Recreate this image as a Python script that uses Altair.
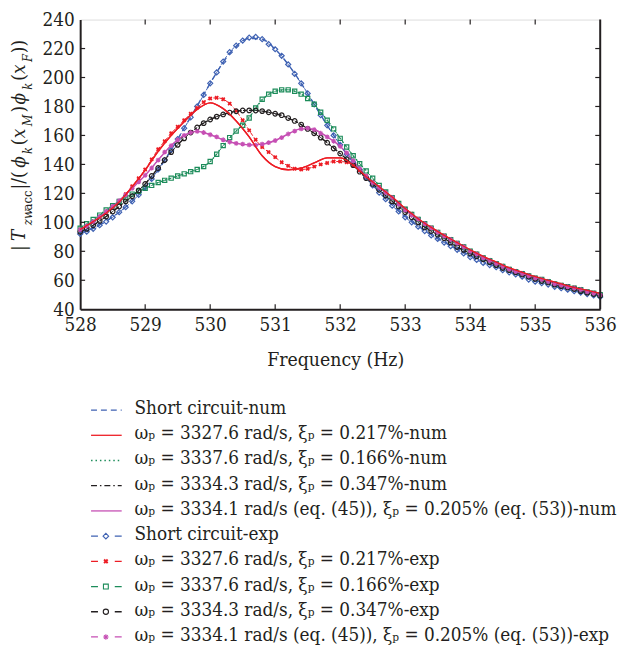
import altair as alt
import pandas as pd

# ---------------- data ----------------
freq_exp = [round(528 + 0.1 * i, 1) for i in range(81)]
freq_num = [round(528 + 0.2 * i, 1) for i in range(41)]

short_exp = [92, 93.5, 95.5, 98, 100.5, 103.5, 107, 110.5, 114.5, 119,
             124, 130, 136.5, 143, 150, 157.5, 165, 172.5, 180, 188,
             196, 203.5, 211, 217.5, 222, 225.5, 227.5, 228, 226.5, 223,
             219.5, 215, 209, 202.5, 196, 189, 181.5, 174, 167, 160,
             153.5, 147, 141.5, 136.5, 131, 125.5, 120.5, 116, 111.5, 107.5,
             103.5, 100, 97, 94, 91, 88.5, 86, 83.5, 81, 78.5,
             76, 74, 72, 70.5, 69, 67, 65.5, 64, 62.5, 60.5,
             59, 58, 57, 55.5, 54.5, 53.5, 52.5, 51.5, 50.5, 49.5, 48.5]
red_exp = [95, 97.5, 100.5, 103.5, 106.5, 110, 114.5, 119.5, 125, 130.5,
           136.5, 143.5, 150.5, 156, 161.5, 166, 170.5, 175, 179, 183,
           185.5, 186, 185, 182, 177, 170.5, 163.5, 157, 152, 148.5,
           145, 141.5, 139, 137, 136.5, 137, 138.5, 140, 141, 142,
           142, 141.5, 139, 136, 132, 128, 124.5, 121, 117.5, 113.5,
           109.5, 106, 102.5, 99.5, 96.5, 93.5, 91, 88.5, 86, 83.5,
           80.5, 78.5, 76, 74, 72, 70, 68, 66.5, 65, 63.5,
           62, 61, 59.5, 58, 57, 56, 55, 54, 52.5, 51.5, 50.5]
green_exp = [96, 99, 102, 105, 108.5, 111.5, 114.5, 117, 119.5, 121.5,
             123.5, 125.5, 127.5, 129, 130.5, 132, 133.5, 135, 136.5, 138.5,
             142, 147, 153, 158.5, 163, 167, 172, 179, 185, 188.5,
             190.5, 191.5, 191.5, 190.5, 188.5, 185.5, 181.5, 176, 170.5, 164.5,
             158, 152, 146, 140.5, 135.5, 130.5, 125.5, 121, 117, 113,
             109, 105.5, 102, 99, 96, 93, 90.5, 88, 85.5, 83,
             80, 78, 75.5, 73.5, 71.5, 69.5, 67.5, 66, 64.5, 63,
             61.5, 60.5, 59, 57.5, 56.5, 55.5, 54.5, 53.5, 52, 51, 50]
black_exp = [93.5, 95.5, 98, 101, 104, 107.5, 111, 114.5, 118, 122,
             126.5, 132, 137.5, 143, 148.5, 153.5, 158, 162, 165.5, 168.5,
             171, 173, 174.5, 175.8, 176.7, 177.2, 177.3, 177.2, 176.8, 176,
             175, 174, 172, 170, 167.5, 164.5, 161.5, 158.5, 155, 151,
             147.5, 143.5, 139.5, 135, 130.5, 126.5, 122.5, 118.5, 114.5, 111,
             107, 103.5, 100, 96.5, 94, 91.5, 89, 86, 83, 81,
             78.5, 76.5, 74.5, 72.5, 70.5, 68.5, 67, 65.5, 64, 62.5,
             61, 59.5, 58.5, 57, 56, 55, 54, 52.5, 51.5, 50.5, 49.5]
magenta_exp = [95, 97.5, 100.5, 104, 107.5, 111, 115, 119, 123.5, 128,
               132.5, 137.5, 143, 148.5, 153, 157, 160, 162, 162.8, 162,
               160.5, 159, 157, 155.5, 154.5, 154, 153.5, 153.3, 154, 155,
               156.5, 158.5, 161, 163, 164.5, 165, 164, 161.5, 159, 156,
               152.5, 148, 142.5, 137, 132, 127.5, 124, 120.5, 117, 112.5,
               108.5, 105, 102, 99, 96, 93, 90.5, 88, 85.5, 83,
               80, 78, 75.5, 73.5, 71.5, 69.5, 67.5, 66, 64.5, 63,
               61.5, 60.5, 59, 57.5, 56.5, 55.5, 54.5, 53.5, 52, 51, 50]

short_num = [92.5, 96, 101, 107, 114.5, 124, 136, 150, 165, 180.5,
             196, 210.5, 221.5, 227, 226.5, 219.5, 209, 196, 181.5, 167,
             153.5, 141.5, 131, 121, 112, 104, 97.5, 91.5, 86.5, 81.5,
             77, 73, 69.5, 66, 63, 60, 57.5, 55, 53, 51, 49]
red_num = [95, 100.5, 106.5, 114, 124.5, 136, 149, 160, 169.5, 178,
           182.5, 178.5, 170, 159, 146, 138.5, 136.3, 137.5, 141, 144.5,
           144.5, 139.5, 131.5, 124.5, 117.5, 109.5, 102.5, 96.5, 91, 86,
           81, 76.5, 72.5, 68.5, 65.5, 62.5, 60, 57.5, 55, 53, 51]
green_num = [96, 102, 108.5, 114.5, 119.5, 123.5, 127.5, 130.5, 133.5, 136.5,
             142, 153, 163, 172.5, 184.5, 190.5, 191.5, 188.5, 181.5, 170.5,
             158, 146, 135.5, 125.5, 117, 109, 102, 96, 90.5, 85.5,
             80.5, 76, 72, 68, 65, 62, 59.5, 57, 55, 52.5, 50.5]
black_num = [93.5, 98, 104, 111, 118, 126.5, 137.5, 148.5, 158, 165.5,
             171, 174.5, 176.7, 177.3, 176.8, 175, 172, 167.5, 161.5, 155,
             147.5, 139.5, 130.5, 122.5, 114.5, 107, 100, 94, 89, 83,
             78.5, 74.5, 70.5, 67, 64, 61, 58.5, 56, 54, 51.5, 49.5]
magenta_num = [95, 100.5, 107.5, 115, 123.5, 132.5, 143, 153, 160, 162.8,
               160.5, 157, 154.5, 153.5, 154, 156.5, 161, 164.5, 164, 159,
               152.5, 142.5, 132, 124, 117, 108.5, 102, 96, 90.5, 85.5,
               80, 75.5, 71.5, 67.5, 64.5, 61.5, 59, 56.5, 54.5, 52, 50]

x_ticks = [528, 529, 530, 531, 532, 533, 534, 535, 536]
y_ticks = [40, 60, 80, 100, 120, 140, 160, 180, 200, 220, 240]

num_labels = [
    "Short circuit-num",
    "ωₚ = 3327.6 rad/s, ξₚ = 0.217%-num",
    "ωₚ = 3337.6 rad/s, ξₚ = 0.166%-num",
    "ωₚ = 3334.3 rad/s, ξₚ = 0.347%-num",
    "ωₚ = 3334.1 rad/s (eq. (45)), ξₚ = 0.205% (eq. (53))-num",
]
exp_labels = [
    "Short circuit-exp",
    "ωₚ = 3327.6 rad/s, ξₚ = 0.217%-exp",
    "ωₚ = 3337.6 rad/s, ξₚ = 0.166%-exp",
    "ωₚ = 3334.3 rad/s, ξₚ = 0.347%-exp",
    "ωₚ = 3334.1 rad/s (eq. (45)), ξₚ = 0.205% (eq. (53))-exp",
]

# y-axis title pieces: text, position along the axis, size kind, italic
ytitle_parts = [
    ("|", 234, "main", False), ("T", 224, "main", True),
    ("zw", 208, "sub", True), ("acc", 193, "sub", False),
    ("|", 172, "main", False), ("/(", 166, "main", False),
    ("ϕ", 150, "main", True), ("k", 136, "sub", True),
    ("(", 127, "main", False), ("x", 120, "main", True),
    ("M", 108, "sub", True), (")", 94, "main", False),
    ("ϕ", 86, "main", True), ("k", 71, "sub", True),
    ("(", 62, "main", False), ("x", 55, "main", True),
    ("F", 43, "sub", True), ("))", 34, "main", False),
]

# ---------------- styling ----------------
W, H = 526, 293
SERIF = "DejaVu Serif Condensed"
TXT = "#231f20"
BLUE, RED, GREEN, BLACK, MAGENTA = "#3f62b3", "#ed1c24", "#1c8c5a", "#231f20", "#c64fb4"
ASTER = "M-1,0L1,0M0,-1L0,1M-0.7,-0.7L0.7,0.7M-0.7,0.7L0.7,-0.7"

xscale = alt.Scale(domain=[528, 536], nice=False, zero=False)
yscale = alt.Scale(domain=[40, 240], nice=False, zero=False)
xaxis = alt.Axis(values=x_ticks, format="d", ticks=False, tickSize=0, labelFontSize=19,
                 labelFont=SERIF, labelColor=TXT, labelPadding=7, labelFlush=False,
                 labelOverlap=False, domainColor=TXT,
                 domainWidth=2, grid=False, title="Frequency (Hz)", titleFont=SERIF,
                 titleFontSize=19.5, titleFontWeight="normal", titleColor=TXT,
                 titleX=258, titleY=51, titleBaseline="middle", titleAlign="center")
yaxis = alt.Axis(values=y_ticks, format="d", ticks=False, tickSize=0, labelFontSize=19,
                 labelFont=SERIF, labelColor=TXT, labelPadding=6, labelFlush=False,
                 labelOverlap=False, domainColor=TXT,
                 domainWidth=2, grid=False, title=None, labelBaseline="middle")
X = alt.X("f:Q", scale=xscale, axis=xaxis)
Y = alt.Y("v:Q", scale=yscale, axis=yaxis)


def line_layer(freqs, vals, color, width=1.2, dash=None):
    kw = dict(color=color, strokeWidth=width, interpolate="monotone")
    if dash:
        kw["strokeDash"] = dash
    return alt.Chart(pd.DataFrame({"f": freqs, "v": vals})).mark_line(**kw).encode(x=X, y=Y)


def point_layer(freqs, vals, color, shape, filled, size, angle=0, sw=1.0):
    kw = dict(color=color, shape=shape, filled=filled, size=size, strokeWidth=sw, opacity=1)
    if angle:
        kw["angle"] = angle
    return alt.Chart(pd.DataFrame({"f": freqs, "v": vals})).mark_point(**kw).encode(x=X, y=Y)


specs = [
    # num values, exp values, color, num dash, shape, filled, size, angle
    (short_num, short_exp, BLUE, [6, 4], "diamond", False, 26, 0),
    (red_num, red_exp, RED, None, "cross", True, 20, 45),
    (green_num, green_exp, GREEN, [1.5, 3], "square", False, 18, 0),
    (black_num, black_exp, BLACK, [6, 3, 1.5, 3], "circle", False, 22, 0),
    (magenta_num, magenta_exp, MAGENTA, None, ASTER, False, 24, 0),
]

main_layers = []
for num, exp, col, dash, *_ in specs:
    main_layers.append(line_layer(freq_num, num, col, 1.4, dash))
for num, exp, col, dash, shape, filled, size, angle in specs:
    main_layers.append(line_layer(freq_exp, exp, col, 1.0, [4, 2]))
    main_layers.append(point_layer(freq_exp, exp, col, shape, filled, size, angle, 1.2))
main_layers.append(line_layer(freq_num, red_num, RED, 1.3))

# inward ticks on all four sides and the frame
xt = pd.DataFrame({"f": x_ticks[1:-1]})
yt = pd.DataFrame({"v": y_ticks[1:-1]})
tick_style = dict(color=TXT, strokeWidth=1.2)
main_layers += [
    alt.Chart(xt).mark_rule(**tick_style).encode(x=X, y=alt.value(H), y2=alt.value(H - 5)),
    alt.Chart(xt).mark_rule(**tick_style).encode(x=X, y=alt.value(0), y2=alt.value(5)),
    alt.Chart(yt).mark_rule(**tick_style).encode(y=Y, x=alt.value(0), x2=alt.value(5)),
    alt.Chart(yt).mark_rule(**tick_style).encode(y=Y, x=alt.value(W), x2=alt.value(W - 5)),
    alt.Chart(xt.head(1)).mark_rule(color=TXT, strokeWidth=2).encode(
        x=alt.value(W), y=alt.value(0), y2=alt.value(H)),
]
main = alt.layer(*main_layers)

# ---------------- legend ----------------
LY = alt.Y("row:Q", scale=alt.Scale(domain=[0, 9], range=[393, 622.5]), axis=None)
leg_layers = []
for i, (num, exp, col, dash, shape, filled, size, angle) in enumerate(specs):
    rn = pd.DataFrame({"row": [i], "label": [num_labels[i]]})
    re_ = pd.DataFrame({"row": [i + 5], "label": [exp_labels[i]]})
    kw = dict(color=col, strokeWidth=1.3, yOffset=2)
    if dash:
        kw["strokeDash"] = dash
    leg_layers.append(alt.Chart(rn).mark_rule(**kw).encode(
        y=LY, x=alt.value(11), x2=alt.value(42)))
    leg_layers.append(alt.Chart(re_).mark_rule(color=col, strokeWidth=1.3, yOffset=2,
                                               strokeDash=[7, 17]).encode(
        y=LY, x=alt.value(11), x2=alt.value(42)))
    pkw = dict(color=col, shape=shape, filled=filled, size=size + 6, strokeWidth=1.1,
               yOffset=2, opacity=1)
    if angle:
        pkw["angle"] = angle
    leg_layers.append(alt.Chart(re_).mark_point(**pkw).encode(y=LY, x=alt.value(26)))
    for d in (rn, re_):
        leg_layers.append(alt.Chart(d).mark_text(
            align="left", baseline="middle", font=SERIF, fontSize=19, color=TXT
        ).encode(y=LY, x=alt.value(55), text="label:N"))
legend = alt.layer(*leg_layers)

# ---------------- y-axis title built from pieces ----------------
yt_df = pd.DataFrame({
    "t": [p[0] for p in ytitle_parts],
    "py": [p[1] for p in ytitle_parts],
    "px": [-55.5 if p[2] == "main" else -48.5 for p in ytitle_parts],
    "fs": [19 if p[2] == "main" else 13 for p in ytitle_parts],
    "it": [p[3] for p in ytitle_parts],
})
ytitle_layers = []
for italic in (True, False):
    d = yt_df[yt_df["it"] == italic]
    ytitle_layers.append(alt.Chart(d).mark_text(
        angle=270, align="left", baseline="alphabetic", font=SERIF, color=TXT,
        fontStyle="italic" if italic else "normal"
    ).encode(x=alt.X("px:Q", scale=None, axis=None), y=alt.Y("py:Q", scale=None, axis=None),
             text="t:N", size=alt.Size("fs:Q", scale=None, legend=None)))
ytitle = alt.layer(*ytitle_layers)

chart = alt.layer(main, legend, ytitle).resolve_scale(y="independent").properties(
    width=W, height=H,
    autosize=alt.AutoSizeParams(type="none"),
    padding={"left": 73, "top": 8, "right": 17, "bottom": 344},
).configure_view(stroke=TXT, strokeWidth=1.2).configure(background="white")

chart.save("out.html", embed_options={"renderer": "svg", "actions": False})
